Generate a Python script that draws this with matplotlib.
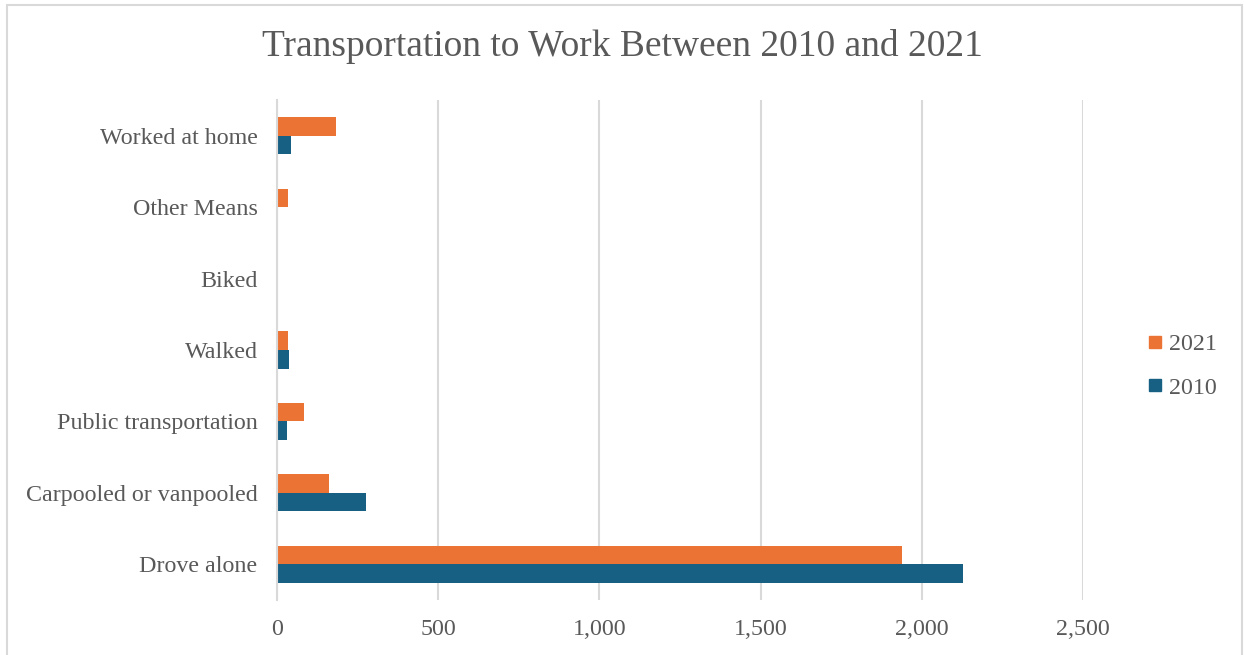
import numpy as np
import matplotlib.pyplot as plt
from matplotlib.patches import Rectangle
from matplotlib.lines import Line2D
from matplotlib.ticker import FuncFormatter

# =======================================================
# DATA

categories = ['Drove alone', 'Carpooled or vanpooled', 'Public transportation',
              'Walked', 'Biked', 'Other Means', 'Worked at home']
values_2010 = [2129, 277, 31, 36, 0, 0, 43]
values_2021 = [1939, 162, 84, 35, 0, 35, 183]
series_labels = ['2021', '2010']

color_2021 = '#eb7334'
color_2010 = '#185f84'
text_color = '#595959'
grid_color = '#d9d9d9'

plt.rcParams['font.family'] = ['Liberation Serif', 'DejaVu Serif']

# =======================================================
# PLOT

fig = plt.figure(figsize=(12.44, 6.55), dpi=100)
ax = fig.add_axes([277 / 1244, 1 - 600 / 655, (1083 - 277) / 1244, 500 / 655])

y = np.arange(len(categories))
h = 0.26
ax.barh(y - h / 2, values_2010, height=h, color=color_2010, zorder=3)
ax.barh(y + h / 2, values_2021, height=h, color=color_2021, zorder=3)

ax.set_xlim(0, 2500)
ax.set_ylim(-0.5, len(categories) - 0.5)
ax.set_xticks(np.arange(0, 2501, 500))
ax.xaxis.set_major_formatter(FuncFormatter(lambda v, p: f'{int(v):,}'))
ax.set_yticks(y)
ax.set_yticklabels(categories)

ax.grid(axis='x', color=grid_color, linewidth=1.5, zorder=0)
for s in ['top', 'right', 'bottom']:
    ax.spines[s].set_visible(False)
ax.spines['left'].set_color(grid_color)
ax.spines['left'].set_linewidth(1.5)
ax.spines['left'].set_zorder(4)

ax.tick_params(axis='both', length=0, labelsize=17.3, labelcolor=text_color)
ax.tick_params(axis='x', pad=14)
ax.tick_params(axis='y', pad=14)

fig.text(0.5, 1 - 46 / 655, 'Transportation to Work Between 2010 and 2021',
         ha='center', va='center', fontsize=27, color=text_color)

handles = [Line2D([], [], linestyle='none', marker='s', markersize=8.5,
                  color=color_2021),
           Line2D([], [], linestyle='none', marker='s', markersize=8.5,
                  color=color_2010)]
fig.legend(handles, series_labels, loc='center left',
           bbox_to_anchor=(1121 / 1244, 1 - 366 / 655), frameon=False,
           fontsize=17.3, labelcolor=text_color, handletextpad=0.1,
           labelspacing=0.9, handlelength=1.0)

# chart border
fig.patches.append(Rectangle((6.5 / 1244, -0.05), 1235 / 1244, 1.05 - 4.5 / 655,
                             transform=fig.transFigure, fill=False,
                             edgecolor=grid_color, linewidth=1.5))

plt.savefig('out.png', dpi=100)
plt.close()
